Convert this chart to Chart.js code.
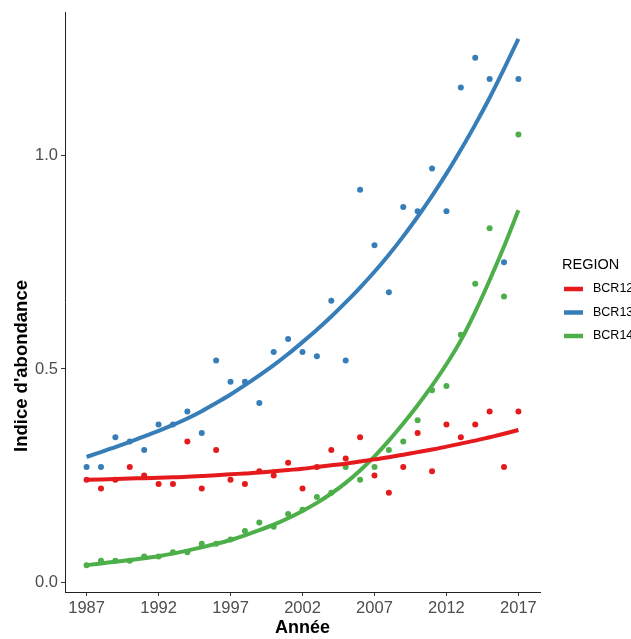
<!DOCTYPE html>
<html><head><meta charset="utf-8">
<script src="https://cdn.jsdelivr.net/npm/chart.js@4.4.0/dist/chart.umd.min.js"></script>
<style>html,body{margin:0;padding:0;background:#fff;}#wrap{width:631px;height:639px;position:relative;}</style>
</head><body><div id="wrap"><canvas id="c" width="631" height="639"></canvas></div>
<script>
const years = [1987,1988,1989,1990,1991,1992,1993,1994,1995,1996,1997,1998,1999,2000,2001,2002,2003,2004,2005,2006,2007,2008,2009,2010,2011,2012,2013,2014,2015,2016,2017];
const regions = ['BCR12','BCR13','BCR14'];
const bcr12 = [0.24,0.22,0.24,0.27,0.25,0.23,0.23,0.33,0.22,0.31,0.24,0.23,0.26,0.25,0.28,0.22,0.27,0.31,0.29,0.34,0.25,0.21,0.27,0.35,0.26,0.37,0.34,0.37,0.40,0.27,0.40];
const bcr13 = [0.27,0.27,0.34,0.33,0.31,0.37,0.37,0.40,0.35,0.52,0.47,0.47,0.42,0.54,0.57,0.54,0.53,0.66,0.52,0.92,0.79,0.68,0.88,0.87,0.97,0.87,1.16,1.23,1.18,0.75,1.18];
const bcr14 = [0.04,0.05,0.05,0.05,0.06,0.06,0.07,0.07,0.09,0.09,0.10,0.12,0.14,0.13,0.16,0.17,0.20,0.21,0.27,0.24,0.27,0.31,0.33,0.38,0.45,0.46,0.58,0.70,0.83,0.67,1.05];
// fitted curves
const fit12 = [0.240,0.241,0.242,0.243,0.244,0.245,0.246,0.247,0.249,0.251,0.253,0.255,0.257,0.260,0.263,0.266,0.270,0.274,0.278,0.283,0.288,0.293,0.299,0.305,0.311,0.318,0.325,0.332,0.340,0.348,0.357];
const fit13 = [0.294,0.305,0.317,0.329,0.342,0.355,0.369,0.384,0.401,0.420,0.440,0.462,0.485,0.509,0.535,0.563,0.592,0.623,0.656,0.691,0.728,0.768,0.811,0.857,0.906,0.958,1.014,1.073,1.136,1.204,1.274];
const fit14 = [0.040,0.044,0.048,0.052,0.056,0.061,0.067,0.074,0.082,0.090,0.099,0.110,0.122,0.135,0.150,0.167,0.186,0.208,0.233,0.262,0.295,0.332,0.372,0.415,0.461,0.511,0.567,0.634,0.708,0.787,0.872];
const xTicks = [1987,1992,1997,2002,2007,2012,2017];
const yTicks = [0.0,0.5,1.0];
const colors = ['#E41A1C','#377EB8','#4DAF4A'];
const FONT = "'Liberation Sans', Arial, sans-serif";

function pts(vals){ return years.map((y,i)=>({x:y,y:vals[i]})); }

const fits = [fit12, fit13, fit14];
const obs = [bcr12, bcr13, bcr14];
const datasets = [];
fits.forEach((f,i)=>datasets.push({label:regions[i], data:pts(f), showLine:true, borderColor:colors[i], backgroundColor:colors[i], borderWidth:4, pointRadius:0, cubicInterpolationMode:'monotone', order:0}));
obs.forEach((o,i)=>datasets.push({label:regions[i]+' obs', data:pts(o), showLine:false, backgroundColor:colors[i], borderColor:colors[i], borderWidth:0, pointRadius:3, order:1}));

const legendPlugin = {
  id:'ggLegend',
  afterDraw(chart){
    const ctx = chart.ctx;
    ctx.save();
    ctx.fillStyle = '#000';
    ctx.textBaseline = 'middle';
    ctx.textAlign = 'left';
    ctx.font = '14.5px ' + FONT;
    ctx.fillText('REGION', 562, 265);
    ctx.font = '12.5px ' + FONT;
    regions.forEach((r,i)=>{
      const y = 289 + i*23.5;
      ctx.strokeStyle = colors[i];
      ctx.lineWidth = 4.5;
      ctx.lineCap = 'butt';
      ctx.beginPath(); ctx.moveTo(564,y); ctx.lineTo(583,y); ctx.stroke();
      ctx.fillStyle = '#000';
      ctx.fillText(r, 593, y);
    });
    // y-axis title
    ctx.translate(22, 366);
    ctx.rotate(-Math.PI/2);
    ctx.textAlign = 'center';
    ctx.textBaseline = 'middle';
    ctx.font = 'bold 18.5px ' + FONT;
    ctx.fillStyle = '#000';
    ctx.fillText("Indice d'abondance", 0, 0);
    ctx.restore();
  }
};

new Chart(document.getElementById('c'), {
  type:'scatter',
  data:{datasets},
  options:{
    responsive:false, animation:false,
    layout:{padding:{top:10,right:91,left:0,bottom:0}},
    plugins:{legend:{display:false}, tooltip:{enabled:false}},
    scales:{
      x:{type:'linear', min:1985.5, max:2018.5,
        afterBuildTicks:(s)=>{ s.ticks = xTicks.map(v=>({value:v})); },
        afterFit:(s)=>{ s.height = 47; },
        ticks:{font:{family:FONT,size:16.5}, color:'#4d4d4d', padding:3, maxRotation:0, autoSkip:false, callback:(v)=>String(v)},
        grid:{display:true, drawOnChartArea:false, drawTicks:true, tickLength:4, color:'#333', tickWidth:1},
        border:{display:true, color:'#222', width:1},
        title:{display:true, text:'Année', color:'#000', font:{family:FONT,size:18,weight:'bold'}, padding:{top:0,bottom:0}}
      },
      y:{type:'linear', min:-0.023, max:1.335,
        afterBuildTicks:(s)=>{ s.ticks = yTicks.map(v=>({value:v})); },
        afterFit:(s)=>{ s.width = 65; },
        ticks:{font:{family:FONT,size:16.5}, color:'#4d4d4d', padding:3, autoSkip:false, callback:(v)=>Number(v).toFixed(1)},
        grid:{display:true, drawOnChartArea:false, drawTicks:true, tickLength:4, color:'#333', tickWidth:1},
        border:{display:true, color:'#222', width:1},
        title:{display:false}
      }
    }
  },
  plugins:[legendPlugin]
});
</script></body></html>
